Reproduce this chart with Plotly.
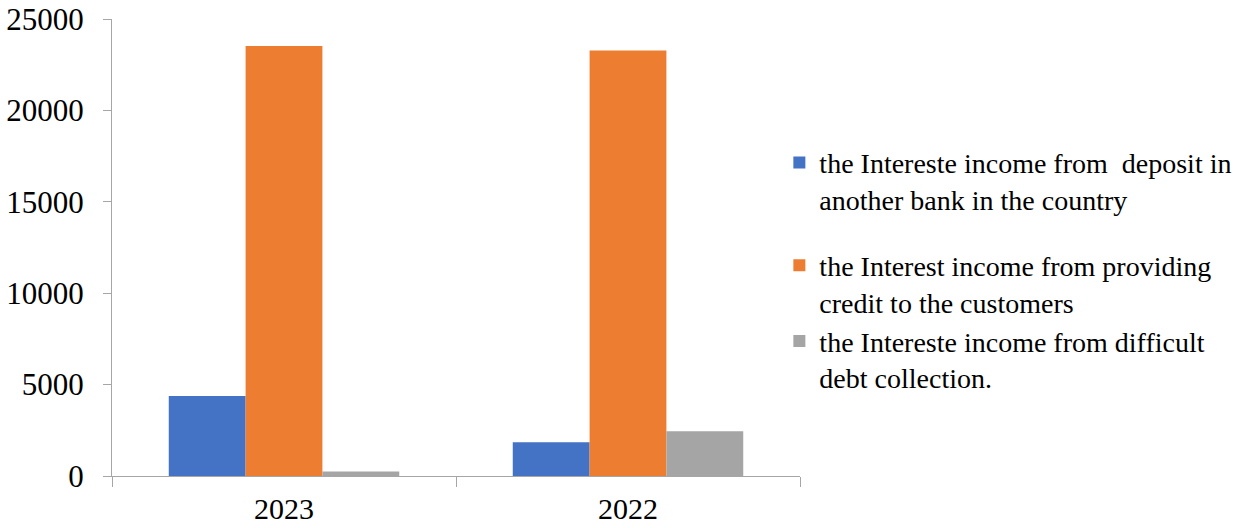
import plotly.graph_objects as go

categories = ["2023", "2022"]
series_names = [
    "the Intereste income from  deposit in<br>another bank in the country",
    "the Interest income from providing<br>credit to the customers",
    "the Intereste income from difficult<br>debt collection.",
]
deposit_income = [4370, 1840]
credit_income = [23520, 23280]
debt_income = [240, 2450]
y_ticks = [0, 5000, 10000, 15000, 20000, 25000]
colors = ["#4472C4", "#ED7D31", "#A5A5A5"]
groups = ["a", "b", "b"]

fig = go.Figure()
for name, vals, col, grp in zip(series_names, [deposit_income, credit_income, debt_income], colors, groups):
    fig.add_trace(go.Bar(x=categories, y=vals, name=name, marker=dict(color=col, line=dict(width=0)),
                         legendgroup=grp))

font = "Liberation Serif, Times New Roman, serif"
fig.update_layout(
    width=1256, height=528,
    margin=dict(l=112, r=456, t=19, b=52),
    paper_bgcolor="white", plot_bgcolor="white",
    barmode="group", bargap=0.33, bargroupgap=0,
    font=dict(family=font, color="black"),
    showlegend=True,
    legend=dict(x=0.97, xanchor="left", y=0.74, yanchor="top",
                font=dict(family=font, size=28, color="black"),
                valign="top", traceorder="grouped", tracegroupgap=27,
                itemwidth=30, bgcolor="rgba(0,0,0,0)"),
)
fig.update_yaxes(range=[0, 25000], tickvals=y_ticks, ticktext=[str(v) for v in y_ticks],
                 automargin=False, ticklabeloverflow="allow",
                 showgrid=False, zeroline=False, showline=True, linecolor="#A6A6A6", linewidth=1,
                 ticks="outside", ticklen=8, tickcolor="#A6A6A6",
                 tickfont=dict(family=font, size=31, color="black"), ticklabelstandoff=13)
fig.update_xaxes(showgrid=False, showline=True, linecolor="#A6A6A6", linewidth=1, automargin=False,
                 ticks="outside", ticklen=10, tickcolor="#A6A6A6", tickson="boundaries",
                 tickfont=dict(family=font, size=30, color="black"), ticklabelstandoff=6)

fig.write_html("out.html", config={"displayModeBar": False},
               post_script="document.body.style.margin='0';")
